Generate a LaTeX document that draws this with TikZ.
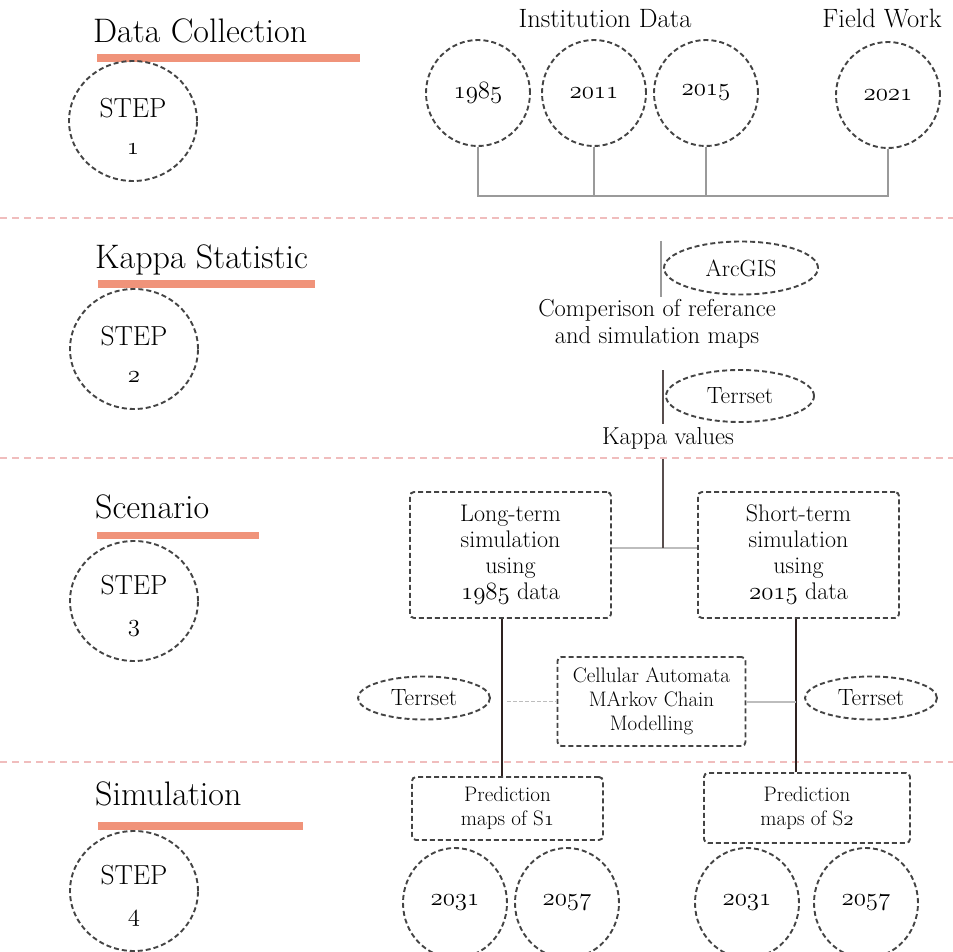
\documentclass[tikz,border=0pt]{standalone}
\usetikzlibrary{shapes.geometric}
\definecolor{barcol}{HTML}{F0937A}
\definecolor{sepcol}{HTML}{F0BDBD}
\definecolor{outl}{HTML}{444444}
\definecolor{treecol}{HTML}{9A9A9A}
\definecolor{darkline}{HTML}{2E2220}
\definecolor{lightcon}{HTML}{BDBDBD}
\newcommand\osf[1]{{\usefont{OML}{lmm}{m}{it}#1}}
\tikzset{
  dashout/.style={draw=outl, line width=1.9pt, dash pattern=on 5pt off 3pt},
  heading/.style={anchor=base west, inner sep=0pt, font=\fontsize{34}{40}\selectfont},
  stepcirc/.style={dashout, ellipse, minimum width=128, minimum height=120, inner sep=0pt},
  steptext/.style={inner sep=0pt, align=center, font=\fontsize{27.5}{37}\selectfont},
  yearcirc/.style={dashout, ellipse, minimum width=104, minimum height=106, inner sep=0pt, font=\fontsize{25}{28}\selectfont},
  lowcirc/.style={dashout, ellipse, minimum width=104, minimum height=110, inner sep=0pt, font=\fontsize{25}{28}\selectfont},
  softell/.style={dashout, ellipse, inner sep=0pt, font=\fontsize{23.5}{26}\selectfont},
  dbox/.style={dashout, rounded corners=4pt, inner sep=0pt, align=center},
  plaintext/.style={inner sep=0pt, align=center, font=\fontsize{24.5}{27}\selectfont},
  toplabel/.style={inner sep=0pt, font=\fontsize{26.5}{30}\selectfont},
  sepline/.style={draw=sepcol, line width=1.6pt, dash pattern=on 7pt off 5pt},
  treeline/.style={draw=treecol, line width=1.5pt},
  darkcon/.style={draw=darkline, line width=2.4pt},
  midcon/.style={draw=darkline!80, line width=1.6pt},
  greycon/.style={draw=lightcon, line width=2pt},
  faintdash/.style={draw=lightcon, line width=1.6pt, dash pattern=on 4pt off 2pt}
}
\begin{document}
\begin{tikzpicture}[x=1pt,y=-1pt]
\useasboundingbox (0,0) rectangle (953,952);
\clip (0,0) rectangle (953,952);

% separators
\draw[sepline] (0,218) -- (953,218);
\draw[sepline] (0,458) -- (953,458);
\draw[sepline] (0,762) -- (953,762);

% headings and bars
\node[heading] (h1) at (93,43) {Data Collection};
\node[heading] (h2) at (95,268) {Kappa Statistic};
\node[heading] (h3) at (95,518) {Scenario};
\node[heading] (h4) at (95,805) {Simulation};
\fill[barcol] (97,54) rectangle (360,62);
\fill[barcol] (98,280) rectangle (315,288);
\fill[barcol] (97,532) rectangle (259,539);
\fill[barcol] (98,822) rectangle (303,830);

% step circles
\node[stepcirc] (s1) at (133,121) {};
\node[stepcirc] (s2) at (134,349) {};
\node[stepcirc] (s3) at (134,601) {};
\node[stepcirc] (s4) at (134,891) {};
\node[steptext] (st1) at ([yshift=-5pt]s1.center) {STEP\\\osf{1}};
\node[steptext] (st2) at ([yshift=-5pt]s2.center) {STEP\\\osf{2}};
\node[steptext] (st3) at ([yshift=-5pt]s3.center) {STEP\\\osf{3}};
\node[steptext] (st4) at ([yshift=-5pt]s4.center) {STEP\\\osf{4}};

% step 1 content
\node[toplabel, anchor=base] (inst) at (605,28) {Institution Data};
\node[toplabel, anchor=base] (field) at (882,28) {Field Work};
\node[yearcirc] (c1985) at (478,93) {\osf{1985}};
\node[yearcirc] (c2011) at (594,93) {\osf{2011}};
\node[yearcirc] (c2015) at (706,93) {\osf{2015}};
\node[yearcirc] (c2021) at (888,95) {\osf{2021}};
\coordinate (bus) at (0,196);
\draw[treeline] (c1985.south) -- (c1985.south |- bus) -- (c2021.south |- bus) -- (c2021.south);
\draw[treeline] (c2011.south) -- (c2011.south |- bus);
\draw[treeline] (c2015.south) -- (c2015.south |- bus);

% step 2 content
\node[softell, minimum width=154, minimum height=53] (arcgis) at (741,268) {ArcGIS};
\node[plaintext] (compar) at (657,324) {Comperison of referance\\and simulation maps};
\node[softell, minimum width=148, minimum height=52] (terr2) at (740,396) {Terrset};
\node[plaintext] (kappa) at (668,438) {Kappa values};
\coordinate (a1) at (661,241);
\coordinate (a2) at (661,297);
\draw[draw=treecol, line width=1.8pt] (a1) -- (a2);
\coordinate (t1) at (663,370);
\coordinate (t2) at (663,424);
\draw[midcon] (t1) -- (t2);

% step 3 content
\node[dbox, minimum width=201, minimum height=126, font=\fontsize{24}{26}\selectfont] (long) at (510.5,555) {Long-term\\simulation\\using\\\osf{1985} data};
\node[dbox, minimum width=201, minimum height=126, font=\fontsize{24}{26}\selectfont] (short) at (798.5,555) {Short-term\\simulation\\using\\\osf{2015} data};
\coordinate (jn) at (663,548);
\draw[greycon] (long.east |- jn) -- (short.west |- jn);
\draw[midcon, line width=2pt] (kappa.south -| jn) ++(0,10) -- (jn);
\node[dbox, minimum width=188, minimum height=89, font=\fontsize{21}{24}\selectfont] (ca) at (651.5,701.5) {Cellular Automata\\MArkov Chain\\Modelling};
\node[softell, minimum width=132, minimum height=43] (terL) at (424,698) {Terrset};
\node[softell, minimum width=132, minimum height=43] (terR) at (871,698) {Terrset};

% step 4 content
\node[dbox, minimum width=191, minimum height=63, font=\fontsize{21}{24}\selectfont] (pred1) at (507.5,808.5) {Prediction\\maps of S\osf{1}};
\node[dbox, minimum width=206, minimum height=70, font=\fontsize{21}{24}\selectfont] (pred2) at (807,808) {Prediction\\maps of S\osf{2}};
\node[lowcirc] (y1) at (455,903) {\osf{2031}};
\node[lowcirc] (y2) at (567,903) {\osf{2057}};
\node[lowcirc] (y3) at (747,903) {\osf{2031}};
\node[lowcirc] (y4) at (866,903) {\osf{2057}};

% vertical connectors
\coordinate (pv1) at (502,0);
\coordinate (pv2) at (796,0);
\draw[darkcon] (long.south -| pv1) -- (pred1.north -| pv1);
\draw[darkcon] (short.south -| pv2) -- (pred2.north -| pv2);
\draw[faintdash] ([xshift=5pt]pv1 |- ca.west) -- (ca.west);
\draw[greycon] (ca.east) -- (pv2 |- ca.east);
\end{tikzpicture}
\end{document}
